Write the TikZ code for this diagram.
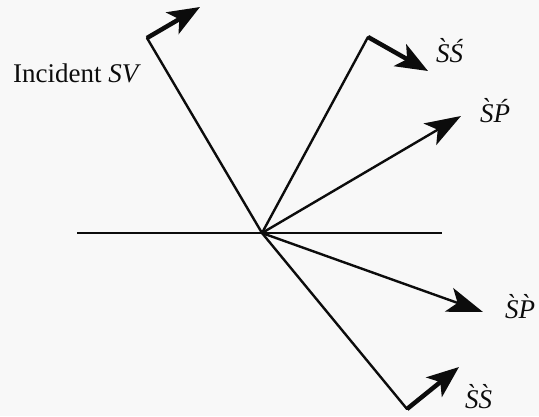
\documentclass[tikz,border=0pt]{standalone}
\usepackage{fontspec}
\setmainfont{Liberation Serif}
\usetikzlibrary{arrows.meta}
\definecolor{paper}{RGB}{248,248,248}
\definecolor{ink}{RGB}{12,12,12}
\tikzset{
  raystyle/.style={line width=2.4pt, draw=ink},
  raytip/.style={raystyle, -{Stealth[length=36pt,width=25pt,inset=9pt]}},
  polstyle/.style={line width=4.5pt, draw=ink, -{Stealth[length=32pt,width=25pt,inset=8pt]}},
  lbl/.style={anchor=base west, inner sep=0pt, text=ink, font=\fontsize{27}{30}\selectfont\itshape}
}
\begin{document}
\begin{tikzpicture}[x=1pt,y=-1pt]
\fill[paper] (0,0) rectangle (539,416);
\useasboundingbox (0,0) rectangle (539,416);
% points
\coordinate (O) at (262,233);
\coordinate (L) at (77,233);
\coordinate (R) at (442,233);
\coordinate (inc) at (147,38);
\coordinate (incp) at (200,7);
\coordinate (rss) at (368,37);
\coordinate (rssp) at (428,71);
\coordinate (rsp) at (461,116);
\coordinate (tsp) at (483,312);
\coordinate (tss) at (407,409);
\coordinate (tssp) at (459,367);
% interface
\draw[raystyle] (L) -- (R);
% rays
\draw[raystyle, line cap=round] (inc) -- (O);
\draw[raystyle, line cap=round] (O) -- (rss);
\draw[raytip] (O) -- (rsp);
\draw[raytip] (O) -- (tsp);
\draw[raystyle, line cap=round] (O) -- (tss);
% polarisations
\draw[polstyle] (inc) -- (incp);
\draw[polstyle] (rss) -- (rssp);
\draw[polstyle] (tss) -- (tssp);
% labels
\node[anchor=base west, inner sep=0pt, text=ink, font=\fontsize{27}{30}\selectfont] (tinc) at (13,82) {Incident \textit{SV}};
\node[lbl] (trss) at (436,62) {\`S\'S};
\node[lbl] (trsp) at (480,122) {\`S\'P};
\node[lbl] (ttsp) at (505,318) {\`S\`P};
\node[lbl] (ttss) at (465,408) {\`S\`S};
\end{tikzpicture}
\end{document}
